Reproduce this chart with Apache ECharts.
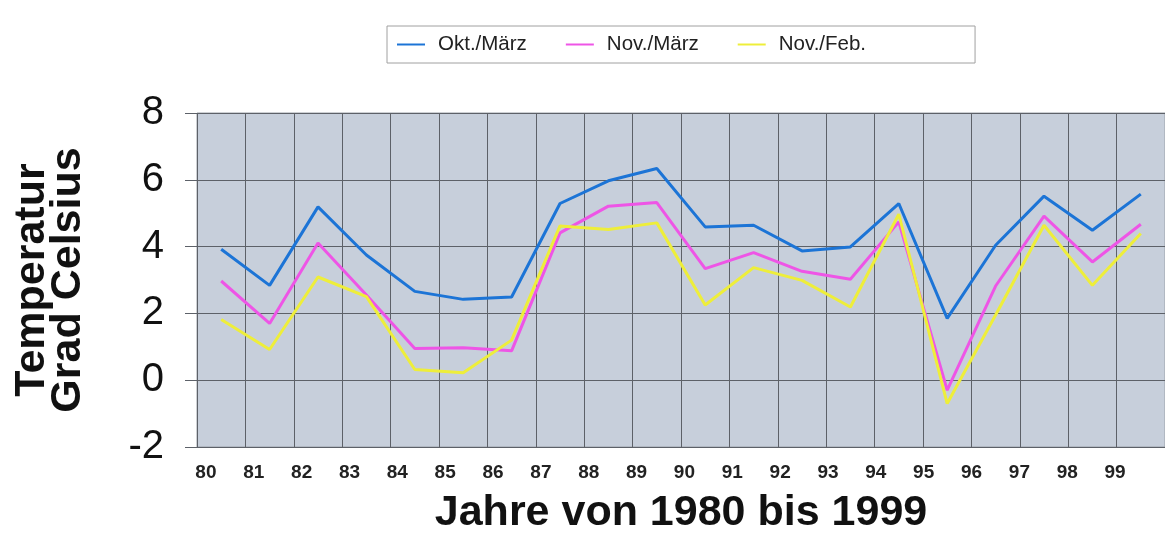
<!DOCTYPE html>
<html>
<head>
<meta charset="utf-8">
<script src="https://cdn.jsdelivr.net/npm/echarts@6/dist/echarts.min.js"></script>
<style>
  html, body { margin: 0; padding: 0; background: #fff; }
  #chart { width: 1165px; height: 539px; }
</style>
</head>
<body>
<div id="chart"></div>
<script>
// Jahre (Kategorien)
var years = ['80','81','82','83','84','85','86','87','88','89','90','91','92','93','94','95','96','97','98','99'];

// Mitteltemperaturen
var oktMaerz = [3.92, 2.84, 5.19, 3.75, 2.66, 2.42, 2.49, 5.29, 5.97, 6.34, 4.59, 4.64, 3.87, 3.99, 5.29, 1.85, 4.04, 5.51, 4.49, 5.57];
var novMaerz = [2.97, 1.70, 4.11, 2.55, 0.95, 0.97, 0.88, 4.41, 5.21, 5.32, 3.34, 3.82, 3.26, 3.02, 4.74, -0.30, 2.82, 4.91, 3.54, 4.67];
var novFeb   = [1.82, 0.92, 3.09, 2.50, 0.32, 0.22, 1.20, 4.62, 4.51, 4.71, 2.25, 3.37, 2.99, 2.19, 4.97, -0.70, 1.95, 4.64, 2.84, 4.39];

var seriesNames = ['Okt./März', 'Nov./März', 'Nov./Feb.'];
var seriesColors = ['#1c74d6', '#ee55e6', '#eeee3a'];

var gridColor = '#5d6168';
var font = '"Liberation Sans", Arial, sans-serif';

var chart = echarts.init(document.getElementById('chart'));

var option = {
    animation: false,
    textStyle: { fontFamily: font },
    legend: {
        left: 387,
        top: 26,
        padding: [8, 109, 8, 10],
        itemGap: 39,
        itemWidth: 28,
        itemHeight: 2,
        icon: 'rect',
        backgroundColor: '#fff',
        borderColor: '#a0a0a0',
        borderWidth: 1,
        textStyle: { fontSize: 20.5, color: '#222', fontFamily: font, padding: [0, 0, 0, 8] },
        data: seriesNames
    },
    grid: [
        { left: 197, top: 113, right: 0, bottom: 92, show: true, outerBoundsMode: 'none',
          backgroundColor: '#c7cfdb', borderColor: '#9aa0a8', borderWidth: 1 },
        // Zeile mit den Jahreszahlen
        { left: 182, width: 957, top: 447, height: 1, outerBoundsMode: 'none' }
    ],
    xAxis: [{
        type: 'category',
        gridIndex: 0,
        data: years,
        boundaryGap: true,
        axisLine: { show: false },
        axisTick: { show: false },
        axisLabel: { show: false },
        splitLine: { show: true, interval: 0, lineStyle: { color: gridColor, width: 1 } },
        name: 'Jahre von 1980 bis 1999',
        nameLocation: 'middle',
        nameGap: 45,
        nameTextStyle: { fontSize: 43, fontWeight: 'bold', color: '#111', fontFamily: font }
    }, {
        type: 'category',
        gridIndex: 1,
        data: years,
        boundaryGap: true,
        axisLine: { show: false },
        axisTick: { show: false },
        axisLabel: { interval: 0, margin: 15, fontSize: 19, fontWeight: 'bold', color: '#222', fontFamily: font }
    }],
    yAxis: [{
        type: 'value',
        gridIndex: 0,
        min: -2,
        max: 8,
        interval: 2,
        axisLine: { show: false },
        axisTick: { show: true, length: 12, lineStyle: { color: gridColor } },
        axisLabel: { margin: 33, fontSize: 40, color: '#111', fontFamily: font },
        splitLine: { lineStyle: { color: gridColor, width: 1 } },
        name: 'Temperatur\nGrad Celsius',
        nameLocation: 'middle',
        nameGap: 111,
        nameRotate: 90,
        nameTextStyle: { fontSize: 43, fontWeight: 'bold', color: '#111', lineHeight: 36, fontFamily: font }
    }, {
        type: 'value',
        gridIndex: 1,
        show: false
    }],
    series: [
        { name: seriesNames[0], type: 'line', data: oktMaerz },
        { name: seriesNames[1], type: 'line', data: novMaerz },
        { name: seriesNames[2], type: 'line', data: novFeb }
    ].map(function (s, i) {
        s.xAxisIndex = 0;
        s.yAxisIndex = 0;
        s.symbol = 'none';
        s.color = seriesColors[i];
        s.lineStyle = { width: 3, color: seriesColors[i] };
        return s;
    })
};

chart.setOption(option);
</script>
</body>
</html>
